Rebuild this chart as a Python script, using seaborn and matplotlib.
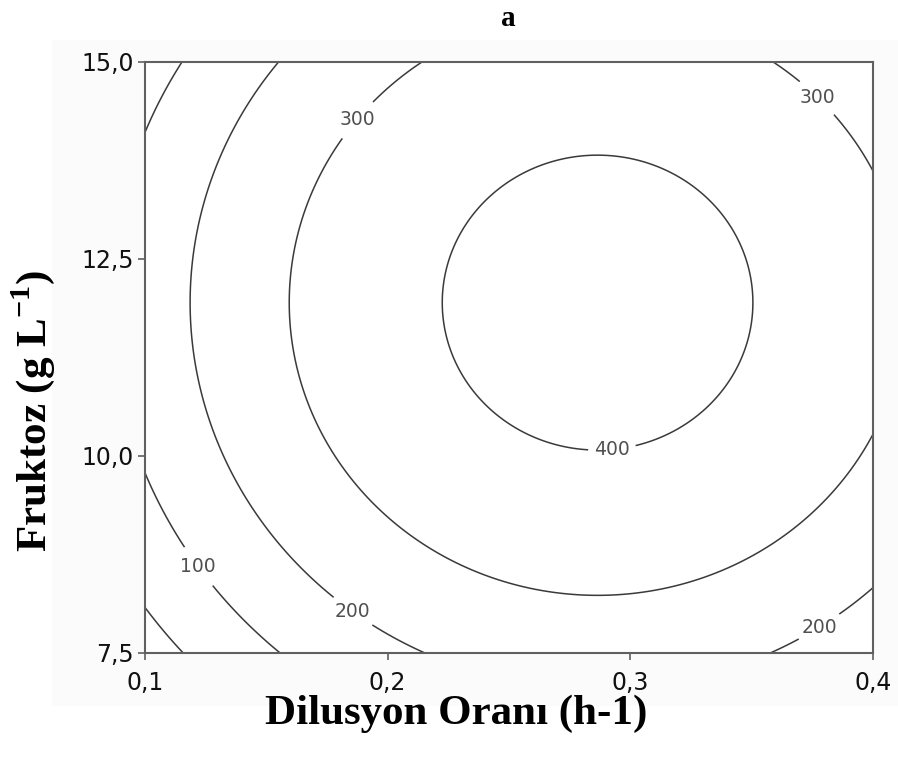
import numpy as np
import matplotlib
matplotlib.use("Agg")
import matplotlib.pyplot as plt
from matplotlib.patches import Rectangle
from matplotlib.ticker import FixedLocator, FuncFormatter
import seaborn as sns

# ---- data ----
x_ticks = [0.1, 0.2, 0.3, 0.4]
y_ticks = [7.5, 10.0, 12.5, 15.0]
x_range = [0.1, 0.4]
y_range = [7.5, 15.0]
levels = [0, 100, 200, 300, 400]
# quadratic response-surface model (fitted to the drawn contours)
peak_value = 434.0
peak_x = 0.2865
peak_y = 11.945
curv_x = 8300.0
curv_y = 9.7

sns.set_theme(style="white")
plt.rcParams['font.family'] = ['DejaVu Sans']

fig = plt.figure(figsize=(8.98, 7.6), dpi=100)
fig.patches.append(Rectangle((52/898, 1-706/760), 1-52/898, (706-40)/760,
                             transform=fig.transFigure, facecolor="#fbfbfb",
                             edgecolor="none", zorder=-10))
ax = fig.add_axes([145/898, 1-652.7/760, (873-145)/898, (652.7-62)/760])
ax.set_facecolor("white")

xg = np.linspace(x_range[0], x_range[1], 400)
yg = np.linspace(y_range[0], y_range[1], 400)
X, Y = np.meshgrid(xg, yg)
Z = peak_value - curv_x*(X-peak_x)**2 - curv_y*(Y-peak_y)**2

cs = ax.contour(X, Y, Z, levels=levels, colors="#3a3a3a", linewidths=1.1)
label_pos = [(0.1214, 8.58), (0.1853, 8.01), (0.378, 7.82),
             (0.1804, 14.45), (0.3762, 14.52), (0.2925, 10.07)]
lbls = ax.clabel(cs, manual=label_pos, fmt='%d',
                 inline=True, inline_spacing=6, fontsize=13.5, colors="#505050")
for t in lbls:
    t.set_rotation(0)

ax.set_xlim(*x_range)
ax.set_ylim(*y_range)
ax.xaxis.set_major_locator(FixedLocator(x_ticks))
ax.yaxis.set_major_locator(FixedLocator(y_ticks))
fmt = FuncFormatter(lambda v, p: f"{v:.1f}".replace(".", ","))
ax.xaxis.set_major_formatter(fmt)
ax.yaxis.set_major_formatter(fmt)
ax.tick_params(axis="both", direction="out", length=5, width=1.2, color="#606060",
               labelsize=17, labelcolor="#111111", bottom=True, left=True)
ax.tick_params(axis="x", pad=8)
ax.tick_params(axis="y", pad=3)
for s in ax.spines.values():
    s.set_color("#606060")
    s.set_linewidth(1.5)

serif = ['Liberation Serif', 'DejaVu Serif']
fig.text(508/898, 1-18/760, "a", ha="center", va="center", fontsize=21,
         fontweight="bold", family=serif, color="black")
fig.text(456/898, 1-714/760, "Dilusyon Oranı (h-1)", ha="center", va="center",
         fontsize=31, fontweight="bold", family=serif, color="black")
fig.text(33/898, 1-411/760, r"Fruktoz (g L$^{\mathregular{-1}}$)", ha="center",
         va="center", rotation=90, fontsize=31, fontweight="bold", family=serif,
         color="black")

fig.savefig("out.png", dpi=100)
